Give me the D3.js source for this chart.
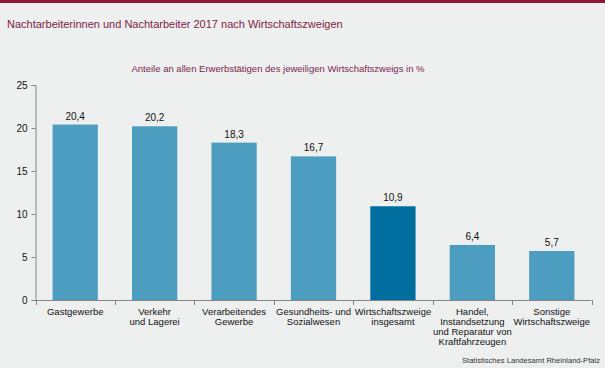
<!DOCTYPE html>
<html><head><meta charset="utf-8">
<script src="https://cdn.jsdelivr.net/npm/d3@7"></script>
<style>
html,body{margin:0;padding:0;background:#eeefef;}
svg{display:block;font-family:"Liberation Sans",Arial,sans-serif;}
</style></head>
<body>
<svg id="c" width="605" height="368"></svg>
<script>
const categories = [
  ["Gastgewerbe"],
  ["Verkehr","und Lagerei"],
  ["Verarbeitendes","Gewerbe"],
  ["Gesundheits- und","Sozialwesen"],
  ["Wirtschaftszweige","insgesamt"],
  ["Handel,","Instandsetzung","und Reparatur von","Kraftfahrzeugen"],
  ["Sonstige","Wirtschaftszweige"]
];
const values = [20.4, 20.2, 18.3, 16.7, 10.9, 6.4, 5.7];
const highlight = [false, false, false, false, true, false, false];
const yTicks = [0, 5, 10, 15, 20, 25];
const title = "Nachtarbeiterinnen und Nachtarbeiter 2017 nach Wirtschaftszweigen";
const subtitle = "Anteile an allen Erwerbstätigen des jeweiligen Wirtschaftszweigs in %";
const source = "Statistisches Landesamt Rheinland-Pfalz";

(function(){
const svg = d3.select("#c");
svg.append("rect").attr("x",0).attr("y",0).attr("width",605).attr("height",368).attr("fill","#eeefef");
svg.append("rect").attr("x",0).attr("y",0).attr("width",605).attr("height",3).attr("fill","#8c1a35");
svg.append("text").attr("x",7).attr("y",28).attr("font-size",11).attr("fill","#7d1d45").text(title);
svg.append("text").attr("x",278).attr("y",72).attr("text-anchor","middle").attr("font-size",9.5).attr("fill","#7d2550").text(subtitle);

const mLeft = 35.5, mRight = 591.5, mTop = 85, mBottom = 300;
const x = d3.scaleBand().domain(d3.range(values.length)).range([mLeft, mRight]).paddingInner(0.43).paddingOuter(0.215);
const y = d3.scaleLinear().domain([0, 25]).range([mBottom, mTop]);

const g = svg.append("g");
g.selectAll("rect.bar").data(values).join("rect").attr("class","bar")
  .attr("x",(d,i)=>x(i)).attr("width",x.bandwidth())
  .attr("y",d=>y(d)).attr("height",d=>y(0)-y(d))
  .attr("fill",(d,i)=>highlight[i]?"#006e9f":"#4d9dc0");

g.selectAll("text.val").data(values).join("text").attr("class","val")
  .attr("x",(d,i)=>x(i)+x.bandwidth()/2).attr("y",d=>y(d)-5)
  .attr("text-anchor","middle").attr("font-size",10).attr("fill","#111")
  .text(d=>d3.format(".1f")(d).replace(".",","));

const yAxis = d3.axisLeft(y).tickValues(yTicks).tickSize(4).tickPadding(4).tickFormat(d=>d);
const ya = svg.append("g").attr("transform",`translate(${mLeft},0)`).call(yAxis);
ya.select(".domain").attr("stroke","#858585");
ya.selectAll(".tick line").attr("stroke","#858585");
ya.selectAll(".tick text").attr("font-size",10).attr("fill","#111").attr("font-family","Liberation Sans, Arial, sans-serif");

const bounds = d3.range(values.length+1).map(i=>mLeft + i*(mRight-mLeft)/values.length);
svg.append("line").attr("x1",mLeft).attr("x2",mRight).attr("y1",mBottom+0.5).attr("y2",mBottom+0.5).attr("stroke","#858585");
svg.selectAll("line.xt").data(bounds).join("line").attr("class","xt")
  .attr("x1",d=>Math.round(d)+0.5).attr("x2",d=>Math.round(d)+0.5).attr("y1",mBottom).attr("y2",mBottom+5).attr("stroke","#858585");

const lab = svg.selectAll("text.cat").data(categories).join("text").attr("class","cat")
  .attr("text-anchor","middle").attr("font-size",9.5).attr("fill","#111")
  .attr("transform",(d,i)=>`translate(${x(i)+x.bandwidth()/2},315)`);
lab.selectAll("tspan").data(d=>d).join("tspan").attr("x",0).attr("y",(d,j)=>j*10).text(d=>d);

svg.append("text").attr("x",600).attr("y",363).attr("text-anchor","end").attr("font-size",7.6).attr("fill","#333").text(source);
})();
</script>
</body></html>
